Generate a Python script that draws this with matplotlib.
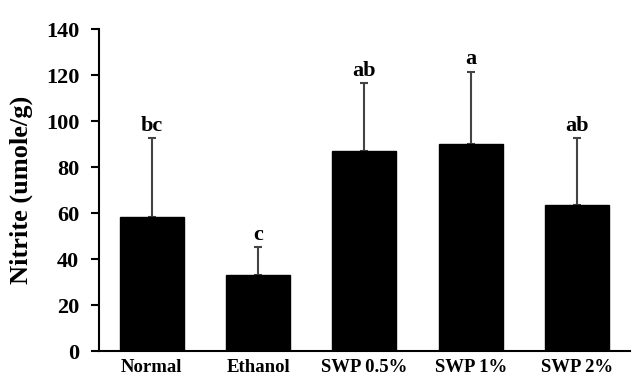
import numpy as np
import matplotlib
matplotlib.use("Agg")
import matplotlib.pyplot as plt

groups = ["Normal", "Ethanol", "SWP 0.5%", "SWP 1%", "SWP 2%"]
nitrite = [58.5, 33, 87, 90, 63.5]
sd = [34, 12.3, 29.5, 31.5, 29]
letters = ["bc", "c", "ab", "a", "ab"]

plt.rcParams["font.family"] = ["Liberation Serif", "DejaVu Serif"]
plt.rcParams["font.weight"] = "bold"

fig = plt.figure(figsize=(6.38, 3.78), dpi=100)
ax = fig.add_axes([0.1547, 0.0714, 0.8328, 0.8516])

x = np.arange(len(groups))
ax.bar(x, nitrite, width=0.6, color="black", edgecolor="black", zorder=2)
ax.errorbar(x, nitrite, yerr=[np.zeros(len(sd)), sd], fmt="none",
            ecolor="#444444", elinewidth=1.5, capsize=3, capthick=1.5, zorder=1)

for xi, top, lab in zip(x, np.add(nitrite, sd), letters):
    ax.text(xi, top + 1, lab, ha="center", va="bottom", fontsize=16, fontweight="bold")

ax.set_xlim(-0.5, 4.5)
ax.set_ylim(0, 140)
ax.set_yticks(range(0, 141, 20))
ax.set_xticks(x)
ax.set_xticklabels(groups, fontsize=13.5, fontweight="bold")
ax.tick_params(axis="y", labelsize=16, direction="out", length=6, width=1.5, pad=8)
ax.tick_params(axis="x", length=0, pad=6)
for lbl in ax.get_yticklabels():
    lbl.set_fontweight("bold")
ax.set_ylabel("Nitrite (umole/g)", fontsize=19, fontweight="bold", labelpad=9)

ax.spines["top"].set_visible(False)
ax.spines["right"].set_visible(False)
ax.spines["left"].set_linewidth(1.5)
ax.spines["bottom"].set_linewidth(1.5)

fig.savefig("out.png", dpi=100)
